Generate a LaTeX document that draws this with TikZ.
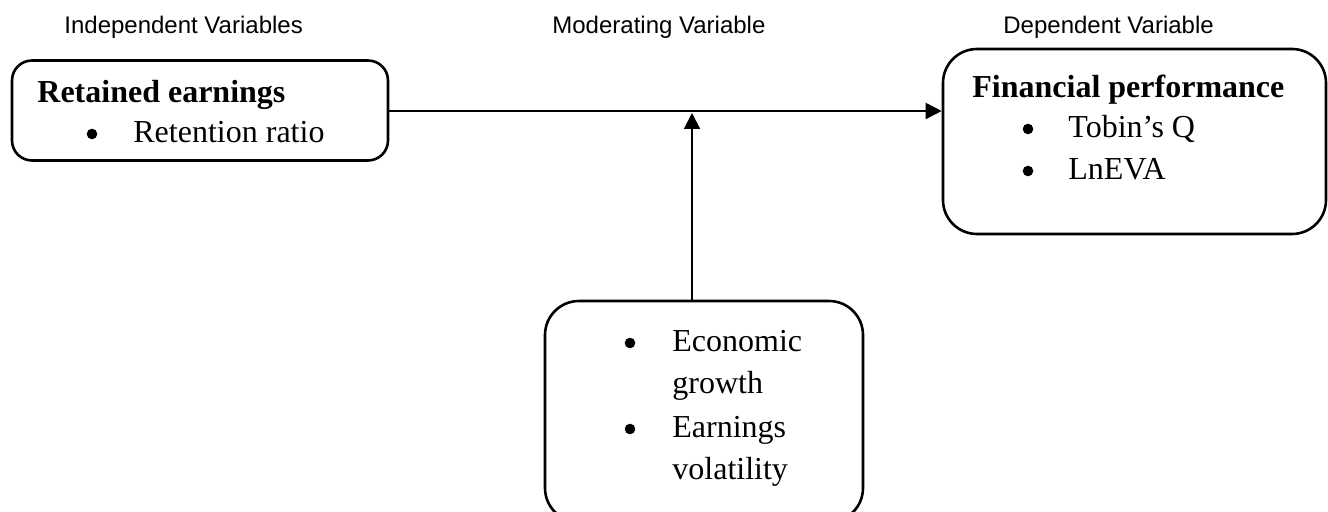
\documentclass[tikz,border=0pt]{standalone}
\usepackage{fontspec}
\setmainfont{Liberation Serif}
\newfontfamily\labelfont{Liberation Sans}
\usetikzlibrary{arrows.meta}
\begin{document}
\begin{tikzpicture}[x=0.5pt,y=-0.5pt,
  box/.style={draw, line width=1.3pt, inner sep=0pt},
  head/.style={font=\labelfont\fontsize{12}{14}\selectfont, anchor=base west, inner sep=0pt},
  title/.style={font=\fontsize{16}{19}\selectfont\bfseries, anchor=base west, inner sep=0pt},
  item/.style={font=\fontsize{16}{19}\selectfont, anchor=base west, inner sep=0pt},
  bul/.style={circle, fill, inner sep=0pt, minimum size=5.3pt},
  conn/.style={line width=1pt, -{Triangle[length=8pt,width=8pt]}}]
\useasboundingbox (0,0) rectangle (1328,512);
\clip (0,0) rectangle (1328,512);
% headings
\node[head] (hI) at (64,34) {Independent Variables};
\node[head] (hM) at (552,34) {Moderating Variable};
\node[head] (hD) at (1003,34) {Dependent Variable};
% boxes
\node[box, rounded corners=10pt, minimum width=188pt, minimum height=50pt] (re) at (200,110.5) {};
\node[box, rounded corners=17pt, minimum width=191.5pt, minimum height=92.5pt] (fp) at (1134.5,141.5) {};
\node[box, rounded corners=17pt, minimum width=159pt, minimum height=110.5pt] (mv) at (704,411.5) {};
% box 1 text
\node[title] (t1) at (37,103) {Retained earnings};
\node[bul] (b1) at (92,134) {};
\node[item] (i1) at (133,143) {Retention ratio};
% box 2 text
\node[title] (t2) at (972,98) {Financial performance};
\node[bul] (b2) at (1028,129) {};
\node[item] (i2) at (1068,138) {Tobin’s Q};
\node[bul] (b3) at (1028,171) {};
\node[item] (i3) at (1068,180) {LnEVA};
% box 3 text
\node[bul] (b4) at (630,343) {};
\node[item] (i4) at (672,352) {Economic};
\node[item] (i5) at (672,394) {growth};
\node[bul] (b5) at (630,429) {};
\node[item] (i6) at (672,438) {Earnings};
\node[item] (i7) at (672,480) {volatility};
% connectors
\coordinate (m) at (692,111);
\coordinate (mb) at (692,301);
\draw[conn] (re.east |- m) -- (fp.west |- m);
\draw[conn, shorten >=1pt] (mb) -- (m);
\end{tikzpicture}
\end{document}
